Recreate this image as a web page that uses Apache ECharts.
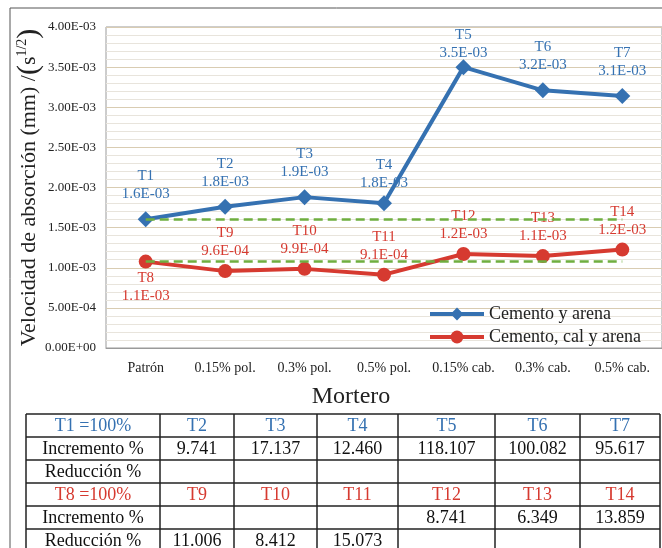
<!DOCTYPE html>
<html>
<head>
<meta charset="utf-8">
<script src="https://cdn.jsdelivr.net/npm/echarts@6/dist/echarts.min.js"></script>
<style>
  html, body { margin: 0; padding: 0; background: #fff; }
  #chart { width: 662px; height: 548px; }
</style>
</head>
<body>
<div id="chart"></div>
<script>
// categorías y valores
const categories = ['Patrón', '0.15% pol.', '0.3% pol.', '0.5% pol.', '0.15% cab.', '0.3% cab.', '0.5% cab.'];
const blueTags = ['T1', 'T2', 'T3', 'T4', 'T5', 'T6', 'T7'];
const redTags = ['T8', 'T9', 'T10', 'T11', 'T12', 'T13', 'T14'];
const cementoArena = [1.605e-3, 1.761e-3, 1.880e-3, 1.805e-3, 3.500e-3, 3.211e-3, 3.139e-3];
const cementoCalArena = [1.0765e-3, 0.958e-3, 0.986e-3, 0.914e-3, 1.171e-3, 1.145e-3, 1.226e-3];

// tabla inferior
const incBlue = ['9.741', '17.137', '12.460', '118.107', '100.082', '95.617'];
const redBlue = ['', '', '', '', '', ''];
const incRed = ['', '', '', '8.741', '6.349', '13.859'];
const redRed = ['11.006', '8.412', '15.073', '', '', ''];

const BLUE = '#3571b1';
const RED = '#d63a30';
const GREEN = '#6fae3f';
const SERIF = '"Liberation Serif", "DejaVu Serif", serif';

function sci(v, d) {
  const parts = v.toExponential(d).split('e');
  const n = parseInt(parts[1], 10);
  return parts[0] + 'E' + (n < 0 ? '-' : '+') + String(Math.abs(n)).padStart(2, '0');
}

// tabla con graphic
const colEdges = [26, 160, 234, 317, 398, 495, 580, 660];
const rowTop = 414, rowH = 23;
const tableRows = [
  { cells: ['T1 =100%'].concat(blueTags.slice(1)), color: BLUE },
  { cells: ['Incremento %'].concat(incBlue), color: '#111' },
  { cells: ['Reducción %'].concat(redBlue), color: '#111' },
  { cells: ['T8 =100%'].concat(redTags.slice(1)), color: RED },
  { cells: ['Incremento %'].concat(incRed), color: '#111' },
  { cells: ['Reducción %'].concat(redRed), color: '#111' }
];
const tableEls = [];
tableRows.forEach((row, r) => {
  row.cells.forEach((txt, c) => {
    if (!txt) return;
    tableEls.push({
      type: 'text',
      x: (colEdges[c] + colEdges[c + 1]) / 2,
      y: rowTop + r * rowH + rowH / 2 + 1,
      style: { text: txt, fill: row.color, font: '18px ' + SERIF, textAlign: 'center', textVerticalAlign: 'middle' },
      silent: true
    });
  });
});
for (let r = 0; r <= tableRows.length; r++) {
  tableEls.push({
    type: 'line',
    shape: { x1: colEdges[0], y1: rowTop + r * rowH, x2: colEdges[colEdges.length - 1], y2: rowTop + r * rowH },
    style: { stroke: '#222', lineWidth: 1.5 },
    silent: true
  });
}
colEdges.forEach(x => {
  tableEls.push({
    type: 'line',
    shape: { x1: x, y1: rowTop, x2: x, y2: rowTop + tableRows.length * rowH },
    style: { stroke: '#222', lineWidth: 1.5 },
    silent: true
  });
});

// ajuste fino de etiquetas (T4, T5 van más pegadas al punto)
const blueLabelDist = { 3: 3, 4: -3 };

const chart = echarts.init(document.getElementById('chart'));
const option = {
  backgroundColor: '#fff',
  animation: false,
  grid: {
    left: 106, top: 27, width: 557, height: 321,
    show: true, borderColor: '#9a9a9a', borderWidth: 1, backgroundColor: '#fff'
  },
  legend: {
    orient: 'vertical',
    left: 423, top: 300,
    itemWidth: 54, itemHeight: 16, itemGap: 5,
    lineStyle: { width: 4 },
    textStyle: { fontFamily: SERIF, fontSize: 18, color: '#222' },
    data: ['Cemento y arena', 'Cemento, cal y arena']
  },
  xAxis: {
    type: 'category',
    data: categories,
    axisTick: { show: false },
    axisLine: { lineStyle: { color: '#9a9a9a' } },
    axisLabel: { interval: 0, fontFamily: SERIF, fontSize: 14, color: '#222', margin: 13 }
  },
  yAxis: {
    type: 'value',
    min: 0, max: 4e-3, interval: 5e-4,
    name: 'Velocidad de absorción (mm) /{p|(}s{sup|1/2}{p|)}',
    nameLocation: 'middle',
    nameRotate: 90,
    nameGap: 62,
    nameMoveOverlap: false,
    nameTextStyle: {
      fontFamily: SERIF, fontSize: 22, color: '#222',
      rich: {
        p: { fontFamily: SERIF, fontSize: 30, color: '#222' },
        sup: { fontFamily: SERIF, fontSize: 14, color: '#222', padding: [0, 0, 13, 0] }
      }
    },
    axisLine: { show: false },
    axisTick: { show: false },
    axisLabel: { fontFamily: SERIF, fontSize: 13, color: '#222', margin: 10, formatter: v => sci(v, 2) },
    splitLine: { lineStyle: { color: '#d9ccb2', width: 1 } },
    minorTick: { show: false, splitNumber: 5 },
    minorSplitLine: { show: true, lineStyle: { color: '#e8e4dc', width: 1 } }
  },
  graphic: [
    {
      type: 'rect',
      shape: { x: 10, y: 8, width: 700, height: 600 },
      style: { fill: 'none', stroke: '#555', lineWidth: 1 },
      silent: true, z: -1
    },
    {
      type: 'text',
      x: 351, y: 397,
      style: { text: 'Mortero', fill: '#222', font: '24px ' + SERIF, textAlign: 'center', textVerticalAlign: 'middle' },
      silent: true
    }
  ].concat(tableEls),
  series: [
    {
      name: 'Cemento y arena',
      type: 'line',
      data: cementoArena.map((v, i) => i in blueLabelDist ? { value: v, label: { distance: blueLabelDist[i] } } : v),
      color: BLUE,
      lineStyle: { width: 4 },
      symbol: 'diamond',
      symbolSize: 16,
      z: 3,
      label: {
        show: true, position: 'top', distance: 8,
        fontFamily: SERIF, fontSize: 15, lineHeight: 18, color: BLUE,
        formatter: p => blueTags[p.dataIndex] + '\n' + sci(p.value, 1)
      },
      markLine: {
        silent: true, symbol: 'none', label: { show: false },
        lineStyle: { color: GREEN, type: [9, 5], width: 2.5 },
        data: [[{ coord: [0, cementoArena[0]] }, { coord: [categories.length - 1, cementoArena[0]] }]]
      }
    },
    {
      name: 'Cemento, cal y arena',
      type: 'line',
      data: cementoCalArena.map((v, i) => i === 0 ? { value: v, label: { position: 'bottom', distance: 0 } } : v),
      color: RED,
      lineStyle: { width: 4 },
      symbol: 'circle',
      symbolSize: 14,
      z: 3,
      label: {
        show: true, position: 'top', distance: 4,
        fontFamily: SERIF, fontSize: 15, lineHeight: 18, color: RED,
        formatter: p => redTags[p.dataIndex] + '\n' + sci(p.value, 1)
      },
      markLine: {
        silent: true, symbol: 'none', label: { show: false },
        lineStyle: { color: GREEN, type: [9, 5], width: 2.5 },
        data: [[{ coord: [0, cementoCalArena[0]] }, { coord: [categories.length - 1, cementoCalArena[0]] }]]
      }
    }
  ]
};
chart.setOption(option);
</script>
</body>
</html>
